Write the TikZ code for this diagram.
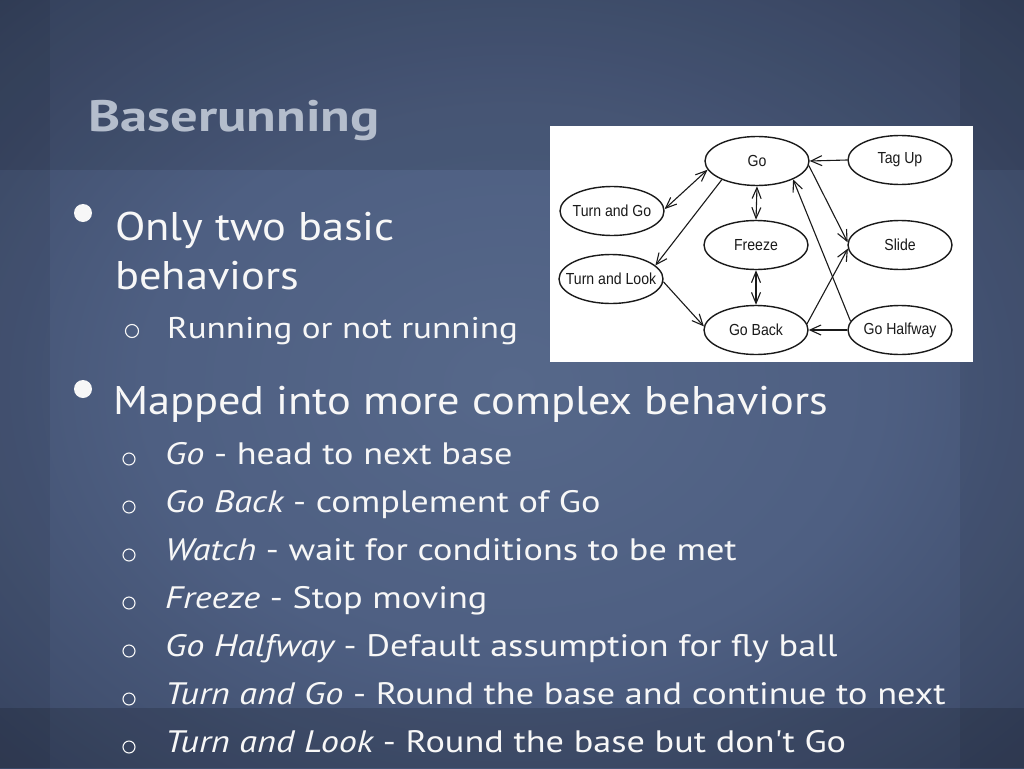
\documentclass[tikz,border=0pt]{standalone}
\usepackage{fontspec}
\setmainfont{PT Sans}
\newfontfamily\titlef[FakeStretch=1.24]{PT Sans}
\newfontfamily\mainf[FakeStretch=1.11]{PT Sans}
\newfontfamily\subf[FakeStretch=1.17]{PT Sans}
\newfontfamily\diagfont[FakeStretch=0.88]{Liberation Sans}
\usetikzlibrary{arrows.meta,shapes.geometric}
\definecolor{bgA}{HTML}{56688A}
\definecolor{bgB}{HTML}{4E5F82}
\definecolor{bgC}{HTML}{384562}
\definecolor{bgD}{HTML}{262D40}
\definecolor{bgE}{HTML}{1A1F2B}
\definecolor{titlec}{HTML}{B4BDCC}
\definecolor{textc}{HTML}{F7F7F7}
\definecolor{ink}{HTML}{1A1A1A}
\pgfdeclareradialshading{bgshade}{\pgfpoint{0bp}{0bp}}{color(0bp)=(bgA); color(18bp)=(bgB); color(38bp)=(bgC); color(55bp)=(bgD); color(71bp)=(bgE); color(100bp)=(bgE)}
\newcommand{\lbl}[1]{\makebox[0pt]{#1}}
\begin{document}
\begin{tikzpicture}[x=1pt,y=-1pt,
  state/.style={ellipse, draw=ink, line width=1.4pt, fill=white, minimum width=104pt, minimum height=49pt, inner sep=0pt, font=\diagfont\fontsize{16}{17}\selectfont, text=ink},
  edge/.style={line width=1.1pt, draw=ink, -{Straight Barb[length=11pt,width=10pt]}},
  biedge/.style={line width=1.1pt, draw=ink, {Straight Barb[length=11pt,width=9pt]}-{Straight Barb[length=11pt,width=9pt]}},
  titletext/.style={anchor=base west, inner sep=0pt, text=titlec, font=\titlef\bfseries\fontsize{44}{48}\selectfont},
  maintext/.style={anchor=base west, inner sep=0pt, text=textc, font=\mainf\fontsize{40}{44}\selectfont},
  subtext/.style={anchor=base west, inner sep=0pt, text=textc, font=\subf\fontsize{31}{34}\selectfont},
  bigdot/.style={circle, fill=textc, minimum size=18pt, inner sep=0pt},
  smallring/.style={circle, draw=textc, line width=1.1pt, minimum size=12pt, inner sep=0pt}
]
\useasboundingbox (0,0) rectangle (1024,768);
\shade[shading=bgshade] (0,0) rectangle (1024,768);
\fill[black, opacity=0.10] (0,0) rectangle (1024,170);
\fill[black, opacity=0.15] (0,708) rectangle (1024,768);
\fill[black, opacity=0.07] (0,0) rectangle (50,768);
\fill[black, opacity=0.07] (960,0) rectangle (1024,768);

% title
\node[titletext] (title) at (88,131) {Baserunning};

% first bullet
\node[bigdot] (b1) at (83,213) {};
\node[maintext] (l1) at (115,240) {Only two basic};
\node[maintext] (l2) at (115,289) {behaviors};
\node[smallring, minimum size=13pt] (s0) at (132,331) {};
\node[subtext, font=\subf\fontsize{30}{33}\selectfont] (l3) at (167,338) {Running or not running};

% second bullet
\node[bigdot] (b2) at (83,389) {};
\node[maintext] (l4) at (113,414) {Mapped into more complex behaviors};

\node[smallring] (s1) at (129,459) {};
\node[subtext] (t1) at (165,464) {\itshape Go\upshape{} - head to next base};
\node[smallring] (s2) at (129,507) {};
\node[subtext] (t2) at (165,512) {\itshape Go Back\upshape{} - complement of Go};
\node[smallring] (s3) at (129,555) {};
\node[subtext] (t3) at (165,560) {\itshape Watch\upshape{} - wait for conditions to be met};
\node[smallring] (s4) at (129,603) {};
\node[subtext] (t4) at (165,608) {\itshape Freeze\upshape{} - Stop moving};
\node[smallring] (s5) at (129,651) {};
\node[subtext] (t5) at (165,656) {\itshape Go Halfway\upshape{} - Default assumption for fly ball};
\node[smallring] (s6) at (129,699) {};
\node[subtext] (t6) at (165,704) {\itshape Turn and Go\upshape{} - Round the base and continue to next};
\node[smallring] (s7) at (129,747) {};
\node[subtext] (t7) at (165,752) {\itshape Turn and Look\upshape{} - Round the base but don't Go};

% diagram panel
\fill[white] (550,126) rectangle (973,362);
\node[state] (go) at (757,161) {\lbl{Go}};
\node[state] (tagup) at (900,160) {\lbl{Tag Up}};
\node[state] (turngo) at (612,211) {\lbl{Turn and Go}};
\node[state] (freeze) at (756,245) {\lbl{Freeze}};
\node[state] (slide) at (900,245) {\lbl{Slide}};
\node[state] (turnlook) at (611,279) {\lbl{Turn and Look}};
\node[state] (goback) at (756,330) {\lbl{Go Back}};
\node[state] (gohalf) at (900,330) {\lbl{Go Halfway}};

\draw[edge] (tagup.west) -- (go.east);
\draw[biedge] (turngo.2) -- (go.190);
\draw[edge] (go.208) -- (turnlook.17);
\draw[biedge] (go.south) -- (freeze.north);
\draw[biedge] (freeze.south) -- (goback.north);
\draw[edge] (turnlook.357) -- (goback.176);
\draw[edge] (go.355) -- (slide.177);
\draw[edge] (gohalf.170) -- (go.333);
\draw[edge] (goback.7) -- (slide.184);
\draw[edge] (gohalf.west) -- (goback.east);
\end{tikzpicture}
\end{document}
